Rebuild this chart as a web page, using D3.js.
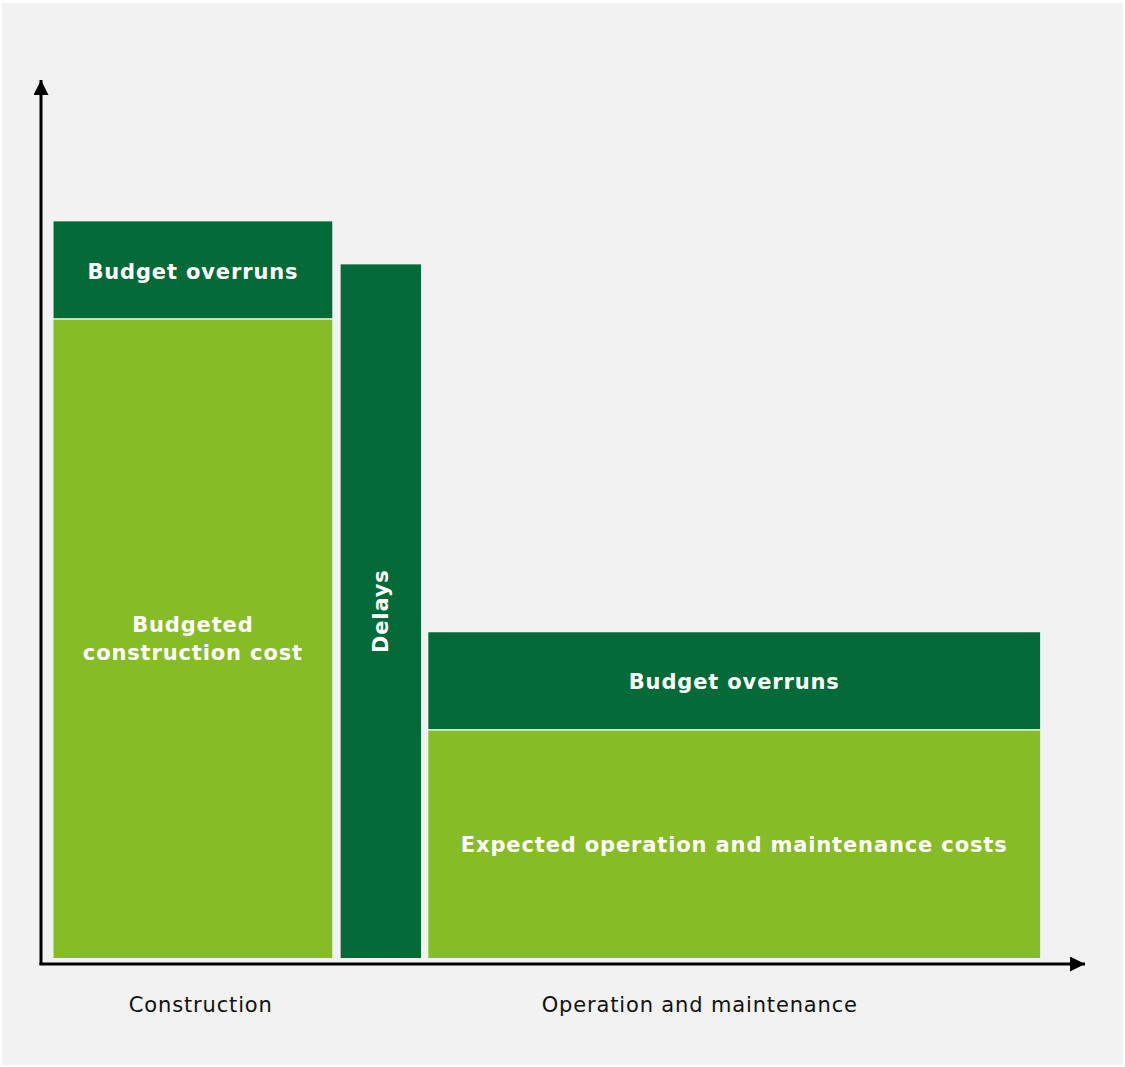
<!DOCTYPE html>
<html>
<head>
<meta charset="utf-8">
<script src="https://cdn.jsdelivr.net/npm/d3@7"></script>
<style>
  body { margin: 0; background: #fff; }
  svg { display: block; }
</style>
</head>
<body>
<div class="chart"></div>
<script>
// phases along the time axis (start, end in axis units 0-100)
const phases = ["Construction", "Delays", "Operation and maintenance"]
const phaseStart = [1.2, 28.7, 37.1]
const phaseEnd = [27.9, 36.4, 95.7]
// stacked cost values (axis units 0-100)
const baseCost = [72.7, 79.0, 25.9]
const overrun = [11.2, 0, 11.2]
const baseLabel = [["Budgeted", "construction cost"], ["Delays"], ["Expected operation and maintenance costs"]]
const overrunLabel = ["Budget overruns", "", "Budget overruns"]
const axisLabels = ["Construction", "Operation and maintenance"]
const axisLabelPos = [15.3, 63.1]

const W = 1125, H = 1067
const light = "#86bc25", dark = "#046a38"
const font = 'DejaVu Sans, Verdana, sans-serif'

const svg = d3.select('.chart')
    .append('svg')
    .attr('width', W)
    .attr('height', H)

svg.append('rect')
    .attr('x', 2).attr('y', 3)
    .attr('width', W - 4).attr('height', H - 5)
    .attr('fill', '#f2f2f2')

const x = d3.scaleLinear().domain([0, 100]).range([41, 1085])
const y = d3.scaleLinear().domain([0, 100]).range([958, 80])

const defs = svg.append('defs')
defs.append('marker')
    .attr('id', 'arrow')
    .attr('viewBox', '0 0 10 10')
    .attr('refX', 10).attr('refY', 5)
    .attr('markerWidth', 5.5).attr('markerHeight', 5)
    .attr('markerUnits', 'strokeWidth')
    .attr('orient', 'auto')
    .append('path')
    .attr('d', 'M0,0L10,5L0,10Z')
    .attr('fill', '#000')

const bars = phases.map((p, i) => ({
    name: p, i: i,
    x0: phaseStart[i], x1: phaseEnd[i],
    base: baseCost[i], over: overrun[i]
}))

const g = svg.append('g')

// base blocks
g.selectAll('rect.base')
    .data(bars)
    .enter()
    .append('rect')
    .attr('class', 'base')
    .attr('x', d => x(d.x0))
    .attr('width', d => x(d.x1) - x(d.x0))
    .attr('y', d => y(d.base))
    .attr('height', d => y(0) - y(d.base))
    .attr('fill', d => d.i === 1 ? dark : light)

// overrun blocks on top
g.selectAll('rect.over')
    .data(bars.filter(d => d.over > 0))
    .enter()
    .append('rect')
    .attr('class', 'over')
    .attr('x', d => x(d.x0))
    .attr('width', d => x(d.x1) - x(d.x0))
    .attr('y', d => y(d.base + d.over))
    .attr('height', d => y(d.base) - y(d.base + d.over) - 1.5)
    .attr('fill', dark)

function whiteText(sel) {
    return sel.attr('fill', '#fff')
        .attr('font-family', font)
        .attr('font-weight', 'bold')
        .attr('font-size', 21)
        .attr('text-anchor', 'middle')
        .attr('letter-spacing', 0.86)
}

// labels inside blocks
bars.forEach(d => {
    const lines = baseLabel[d.i]
    const cx = (x(d.x0) + x(d.x1)) / 2
    const cy = (y(0) + y(d.base)) / 2
    const t = whiteText(g.append('text'))
    if (d.i === 1) {
        t.attr('transform', `translate(${cx + 7.5},${cy}) rotate(-90)`)
            .text(lines[0])
    } else {
        lines.forEach((l, k) => {
            t.append('tspan')
                .attr('x', cx)
                .attr('y', cy + 7.5 + (k - (lines.length - 1) / 2) * 28)
                .text(l)
        })
    }
    if (d.over > 0) {
        whiteText(g.append('text'))
            .attr('x', cx)
            .attr('y', (y(d.base) + y(d.base + d.over)) / 2 + 8)
            .text(overrunLabel[d.i])
    }
})

// axes with arrows
svg.append('line')
    .attr('x1', x(0)).attr('y1', 965)
    .attr('x2', x(0)).attr('y2', y(100))
    .attr('stroke', '#000').attr('stroke-width', 3)
    .attr('marker-end', 'url(#arrow)')
svg.append('line')
    .attr('x1', x(0) - 1.5).attr('y1', 964)
    .attr('x2', x(100)).attr('y2', 964)
    .attr('stroke', '#000').attr('stroke-width', 3)
    .attr('marker-end', 'url(#arrow)')

svg.selectAll('text.axis')
    .data(axisLabels)
    .enter()
    .append('text')
    .attr('class', 'axis')
    .attr('x', (d, i) => x(axisLabelPos[i]))
    .attr('y', 1012)
    .attr('text-anchor', 'middle')
    .attr('font-family', font)
    .attr('font-size', 21)
    .attr('letter-spacing', 0.85)
    .attr('fill', '#111')
    .text(d => d)
</script>
</body>
</html>
